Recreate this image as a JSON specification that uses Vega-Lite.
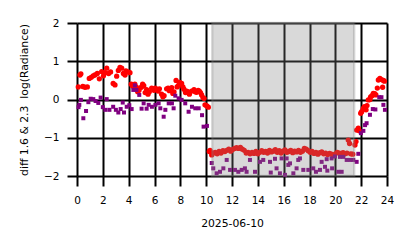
{
  "$schema": "https://vega.github.io/schema/vega-lite/v6.json",
  "width": 310,
  "height": 153,
  "autosize": {"type": "none"},
  "padding": {"left": 77, "top": 23, "right": 27, "bottom": 72},
  "config": {
    "view": {"stroke": null},
    "font": "DejaVu Sans",
    "axis": {
      "grid": true, "gridColor": "black", "gridWidth": 2, "gridOpacity": 1,
      "domain": false, "tickColor": "black", "tickWidth": 2, "tickSize": 10,
      "labelFontSize": 10.5, "labelColor": "black", "titleColor": "black",
      "titleFontSize": 10.8, "titleFontWeight": "normal", "zindex": 1,
      "labelOverlap": false
    }
  },
  "datasets": {
    "pts": [
      {"t":0.1,"v":0.33,"s":"r"},{"t":0.23,"v":0.64,"s":"r"},{"t":0.3,"v":0.67,"s":"r"},{"t":0.45,"v":0.34,"s":"r"},{"t":0.62,"v":0.32,"s":"r"},{"t":0.8,"v":0.33,"s":"r"},{"t":0.95,"v":0.55,"s":"r"},{"t":1.1,"v":0.58,"s":"r"},{"t":1.25,"v":0.62,"s":"r"},{"t":1.39,"v":0.64,"s":"r"},{"t":1.57,"v":0.68,"s":"r"},{"t":1.73,"v":0.54,"s":"r"},{"t":1.91,"v":0.73,"s":"r"},{"t":2.05,"v":0.62,"s":"r"},{"t":2.18,"v":0.7,"s":"r"},{"t":2.3,"v":0.82,"s":"r"},{"t":2.45,"v":0.68,"s":"r"},{"t":2.6,"v":0.72,"s":"r"},{"t":2.8,"v":0.42,"s":"r"},{"t":2.94,"v":0.38,"s":"r"},{"t":3.07,"v":0.61,"s":"r"},{"t":3.2,"v":0.76,"s":"r"},{"t":3.33,"v":0.84,"s":"r"},{"t":3.46,"v":0.82,"s":"r"},{"t":3.59,"v":0.68,"s":"r"},{"t":3.72,"v":0.64,"s":"r"},{"t":3.79,"v":0.75,"s":"r"},{"t":3.95,"v":0.72,"s":"r"},{"t":4.1,"v":0.7,"s":"r"},{"t":4.2,"v":0.4,"s":"r"},{"t":4.3,"v":0.35,"s":"r"},{"t":4.48,"v":0.4,"s":"r"},{"t":4.6,"v":0.32,"s":"r"},{"t":4.7,"v":0.2,"s":"r"},{"t":4.8,"v":0.24,"s":"r"},{"t":4.98,"v":0.32,"s":"r"},{"t":5.08,"v":0.4,"s":"r"},{"t":5.17,"v":0.36,"s":"r"},{"t":5.28,"v":0.18,"s":"r"},{"t":5.39,"v":0.26,"s":"r"},{"t":5.5,"v":0.14,"s":"r"},{"t":5.6,"v":0.2,"s":"r"},{"t":5.78,"v":0.3,"s":"r"},{"t":5.96,"v":0.24,"s":"r"},{"t":6.05,"v":0.3,"s":"r"},{"t":6.17,"v":0.27,"s":"r"},{"t":6.28,"v":0.22,"s":"r"},{"t":6.38,"v":0.28,"s":"r"},{"t":6.55,"v":0.14,"s":"r"},{"t":6.65,"v":0.07,"s":"r"},{"t":6.74,"v":0.1,"s":"r"},{"t":6.94,"v":0.28,"s":"r"},{"t":7.05,"v":0.3,"s":"r"},{"t":7.15,"v":0.23,"s":"r"},{"t":7.33,"v":0.31,"s":"r"},{"t":7.42,"v":0.16,"s":"r"},{"t":7.51,"v":0.2,"s":"r"},{"t":7.67,"v":0.5,"s":"r"},{"t":7.75,"v":0.33,"s":"r"},{"t":7.85,"v":0.37,"s":"r"},{"t":7.95,"v":0.45,"s":"r"},{"t":8.1,"v":0.42,"s":"r"},{"t":8.2,"v":0.33,"s":"r"},{"t":8.28,"v":0.27,"s":"r"},{"t":8.4,"v":0.18,"s":"r"},{"t":8.49,"v":0.22,"s":"r"},{"t":8.6,"v":0.2,"s":"r"},{"t":8.7,"v":0.14,"s":"r"},{"t":8.88,"v":0.22,"s":"r"},{"t":9.06,"v":0.26,"s":"r"},{"t":9.15,"v":0.2,"s":"r"},{"t":9.26,"v":0.19,"s":"r"},{"t":9.38,"v":0.24,"s":"r"},{"t":9.47,"v":0.22,"s":"r"},{"t":9.56,"v":0.18,"s":"r"},{"t":9.65,"v":0.12,"s":"r"},{"t":9.75,"v":0.05,"s":"r"},{"t":9.84,"v":0.03,"s":"r"},{"t":9.91,"v":-0.14,"s":"r"},{"t":10.05,"v":-0.17,"s":"r"},{"t":10.17,"v":-0.2,"s":"r"},{"t":10.24,"v":-1.36,"s":"r"},
      {"t":10.3,"v":-1.33,"s":"r"},{"t":10.43,"v":-1.45,"s":"r"},{"t":10.55,"v":-1.4,"s":"r"},{"t":10.7,"v":-1.38,"s":"r"},{"t":10.85,"v":-1.42,"s":"r"},{"t":11.0,"v":-1.36,"s":"r"},{"t":11.15,"v":-1.4,"s":"r"},{"t":11.3,"v":-1.34,"s":"r"},{"t":11.45,"v":-1.36,"s":"r"},{"t":11.6,"v":-1.33,"s":"r"},{"t":11.75,"v":-1.3,"s":"r"},{"t":11.9,"v":-1.35,"s":"r"},{"t":12.05,"v":-1.31,"s":"r"},{"t":12.2,"v":-1.28,"s":"r"},{"t":12.35,"v":-1.26,"s":"r"},{"t":12.5,"v":-1.28,"s":"r"},{"t":12.65,"v":-1.25,"s":"r"},{"t":12.8,"v":-1.3,"s":"r"},{"t":12.95,"v":-1.33,"s":"r"},{"t":13.1,"v":-1.4,"s":"r"},{"t":13.25,"v":-1.38,"s":"r"},{"t":13.4,"v":-1.42,"s":"r"},{"t":13.55,"v":-1.38,"s":"r"},{"t":13.7,"v":-1.41,"s":"r"},{"t":13.85,"v":-1.36,"s":"r"},{"t":14.0,"v":-1.42,"s":"r"},{"t":14.15,"v":-1.38,"s":"r"},{"t":14.3,"v":-1.34,"s":"r"},{"t":14.45,"v":-1.38,"s":"r"},{"t":14.6,"v":-1.36,"s":"r"},{"t":14.75,"v":-1.4,"s":"r"},{"t":14.9,"v":-1.33,"s":"r"},{"t":15.05,"v":-1.37,"s":"r"},{"t":15.2,"v":-1.35,"s":"r"},{"t":15.35,"v":-1.31,"s":"r"},{"t":15.5,"v":-1.38,"s":"r"},{"t":15.65,"v":-1.34,"s":"r"},{"t":15.8,"v":-1.4,"s":"r"},{"t":15.95,"v":-1.35,"s":"r"},{"t":16.1,"v":-1.32,"s":"r"},{"t":16.25,"v":-1.38,"s":"r"},{"t":16.4,"v":-1.36,"s":"r"},{"t":16.55,"v":-1.33,"s":"r"},{"t":16.7,"v":-1.39,"s":"r"},{"t":16.85,"v":-1.35,"s":"r"},{"t":17.0,"v":-1.37,"s":"r"},{"t":17.15,"v":-1.33,"s":"r"},{"t":17.3,"v":-1.38,"s":"r"},{"t":17.45,"v":-1.35,"s":"r"},{"t":17.6,"v":-1.28,"s":"r"},{"t":17.75,"v":-1.3,"s":"r"},{"t":17.9,"v":-1.34,"s":"r"},{"t":18.05,"v":-1.38,"s":"r"},{"t":18.2,"v":-1.36,"s":"r"},{"t":18.35,"v":-1.41,"s":"r"},{"t":18.5,"v":-1.38,"s":"r"},{"t":18.65,"v":-1.43,"s":"r"},{"t":18.8,"v":-1.39,"s":"r"},{"t":18.95,"v":-1.37,"s":"r"},{"t":19.1,"v":-1.42,"s":"r"},{"t":19.25,"v":-1.4,"s":"r"},{"t":19.4,"v":-1.44,"s":"r"},{"t":19.55,"v":-1.41,"s":"r"},{"t":19.7,"v":-1.43,"s":"r"},{"t":19.85,"v":-1.46,"s":"r"},{"t":20.0,"v":-1.42,"s":"r"},{"t":20.15,"v":-1.38,"s":"r"},{"t":20.3,"v":-1.4,"s":"r"},{"t":20.45,"v":-1.41,"s":"r"},{"t":20.6,"v":-1.39,"s":"r"},{"t":20.75,"v":-1.42,"s":"r"},{"t":20.9,"v":-1.4,"s":"r"},{"t":21.0,"v":-1.06,"s":"r"},{"t":21.1,"v":-1.15,"s":"r"},{"t":21.2,"v":-1.42,"s":"r"},{"t":21.35,"v":-1.43,"s":"r"},{"t":21.52,"v":-1.19,"s":"r"},{"t":21.6,"v":-1.1,"s":"r"},{"t":21.65,"v":-0.8,"s":"r"},{"t":21.78,"v":-0.75,"s":"r"},{"t":21.85,"v":-0.82,"s":"r"},{"t":21.96,"v":-0.36,"s":"r"},{"t":22.04,"v":-0.32,"s":"r"},{"t":22.17,"v":-0.23,"s":"r"},{"t":22.25,"v":-0.19,"s":"r"},{"t":22.38,"v":-0.27,"s":"r"},{"t":22.45,"v":-0.16,"s":"r"},{"t":22.55,"v":-0.01,"s":"r"},{"t":22.68,"v":0.0,"s":"r"},{"t":22.73,"v":0.07,"s":"r"},{"t":22.84,"v":0.1,"s":"r"},{"t":22.94,"v":0.16,"s":"r"},{"t":23.05,"v":0.15,"s":"r"},{"t":23.14,"v":0.12,"s":"r"},{"t":23.25,"v":0.3,"s":"r"},{"t":23.33,"v":0.51,"s":"r"},{"t":23.45,"v":0.55,"s":"r"},{"t":23.57,"v":0.52,"s":"r"},{"t":23.66,"v":0.32,"s":"r"},{"t":23.72,"v":0.5,"s":"r"},{"t":23.8,"v":0.48,"s":"r"},
      {"t":0.12,"v":-0.2,"s":"p"},{"t":0.18,"v":-0.14,"s":"p"},{"t":0.3,"v":-0.01,"s":"p"},{"t":0.49,"v":-0.49,"s":"p"},{"t":0.7,"v":-0.3,"s":"p"},{"t":0.88,"v":-0.07,"s":"p"},{"t":1.06,"v":0.02,"s":"p"},{"t":1.26,"v":0.01,"s":"p"},{"t":1.44,"v":-0.04,"s":"p"},{"t":1.65,"v":-0.09,"s":"p"},{"t":1.83,"v":0.05,"s":"p"},{"t":2.0,"v":-0.2,"s":"p"},{"t":2.2,"v":-0.27,"s":"p"},{"t":2.3,"v":0.01,"s":"p"},{"t":2.51,"v":-0.27,"s":"p"},{"t":2.8,"v":-0.19,"s":"p"},{"t":3.01,"v":-0.27,"s":"p"},{"t":3.2,"v":-0.34,"s":"p"},{"t":3.38,"v":-0.25,"s":"p"},{"t":3.54,"v":-0.08,"s":"p"},{"t":3.64,"v":-0.34,"s":"p"},{"t":3.85,"v":-0.19,"s":"p"},{"t":4.05,"v":-0.15,"s":"p"},{"t":4.23,"v":-0.25,"s":"p"},{"t":4.36,"v":0.25,"s":"p"},{"t":4.48,"v":0.37,"s":"p"},{"t":4.6,"v":0.25,"s":"p"},{"t":4.82,"v":0.12,"s":"p"},{"t":5.0,"v":-0.24,"s":"p"},{"t":5.16,"v":-0.1,"s":"p"},{"t":5.39,"v":-0.24,"s":"p"},{"t":5.55,"v":-0.14,"s":"p"},{"t":5.8,"v":-0.19,"s":"p"},{"t":6.07,"v":-0.14,"s":"p"},{"t":6.32,"v":-0.1,"s":"p"},{"t":6.45,"v":-0.23,"s":"p"},{"t":6.71,"v":-0.45,"s":"p"},{"t":6.84,"v":-0.27,"s":"p"},{"t":7.1,"v":-0.1,"s":"p"},{"t":7.35,"v":-0.1,"s":"p"},{"t":7.48,"v":-0.23,"s":"p"},{"t":7.61,"v":0.1,"s":"p"},{"t":7.87,"v":0.03,"s":"p"},{"t":8.1,"v":-0.01,"s":"p"},{"t":8.38,"v":-0.1,"s":"p"},{"t":8.64,"v":-0.32,"s":"p"},{"t":8.9,"v":-0.19,"s":"p"},{"t":9.16,"v":-0.23,"s":"p"},{"t":9.42,"v":-0.23,"s":"p"},{"t":9.68,"v":-0.41,"s":"p"},{"t":9.8,"v":-0.71,"s":"p"},{"t":10.06,"v":-0.69,"s":"p"},
      {"t":10.43,"v":-1.66,"s":"p"},{"t":10.55,"v":-1.8,"s":"p"},{"t":10.81,"v":-1.93,"s":"p"},{"t":11.07,"v":-1.89,"s":"p"},{"t":11.33,"v":-1.8,"s":"p"},{"t":11.59,"v":-1.58,"s":"p"},{"t":11.85,"v":-1.84,"s":"p"},{"t":12.23,"v":-1.84,"s":"p"},{"t":12.49,"v":-1.89,"s":"p"},{"t":12.75,"v":-1.84,"s":"p"},{"t":13.0,"v":-1.8,"s":"p"},{"t":13.13,"v":-1.89,"s":"p"},{"t":13.39,"v":-1.58,"s":"p"},{"t":13.78,"v":-1.89,"s":"p"},{"t":14.17,"v":-1.63,"s":"p"},{"t":14.42,"v":-1.58,"s":"p"},{"t":14.94,"v":-1.63,"s":"p"},{"t":15.0,"v":-1.91,"s":"p"},{"t":15.33,"v":-1.55,"s":"p"},{"t":15.45,"v":-1.8,"s":"p"},{"t":15.71,"v":-1.93,"s":"p"},{"t":15.84,"v":-1.54,"s":"p"},{"t":16.1,"v":-1.97,"s":"p"},{"t":16.23,"v":-1.54,"s":"p"},{"t":16.36,"v":-1.71,"s":"p"},{"t":16.49,"v":-1.67,"s":"p"},{"t":16.75,"v":-1.93,"s":"p"},{"t":17.0,"v":-1.8,"s":"p"},{"t":17.13,"v":-1.58,"s":"p"},{"t":17.26,"v":-1.54,"s":"p"},{"t":17.52,"v":-1.84,"s":"p"},{"t":17.91,"v":-1.84,"s":"p"},{"t":18.29,"v":-1.8,"s":"p"},{"t":18.5,"v":-1.89,"s":"p"},{"t":18.81,"v":-1.84,"s":"p"},{"t":18.94,"v":-1.63,"s":"p"},{"t":19.2,"v":-1.76,"s":"p"},{"t":19.33,"v":-1.56,"s":"p"},{"t":19.38,"v":-1.86,"s":"p"},{"t":19.71,"v":-1.54,"s":"p"},{"t":19.75,"v":-1.8,"s":"p"},{"t":19.97,"v":-1.49,"s":"p"},{"t":20.23,"v":-1.89,"s":"p"},{"t":20.36,"v":-1.5,"s":"p"},{"t":20.49,"v":-1.89,"s":"p"},{"t":20.62,"v":-1.5,"s":"p"},{"t":20.88,"v":-1.58,"s":"p"},{"t":21.14,"v":-1.58,"s":"p"},{"t":21.39,"v":-1.58,"s":"p"},{"t":21.65,"v":-1.63,"s":"p"},
      {"t":21.78,"v":-1.42,"s":"p"},{"t":21.98,"v":-0.88,"s":"p"},{"t":22.17,"v":-0.82,"s":"p"},{"t":22.3,"v":-0.67,"s":"p"},{"t":22.42,"v":-0.62,"s":"p"},{"t":22.68,"v":-0.4,"s":"p"},{"t":22.9,"v":-0.25,"s":"p"},{"t":23.1,"v":-0.26,"s":"p"},{"t":23.4,"v":0.06,"s":"p"},{"t":23.57,"v":0.06,"s":"p"},{"t":23.72,"v":-0.14,"s":"p"},{"t":23.84,"v":-0.27,"s":"p"}
    ],
    "shade": [{"start": 10.47, "end": 21.46}]
  },
  "encoding": {
    "x": {"type": "quantitative",
          "scale": {"domain": [0, 24], "nice": false, "zero": false},
          "axis": {"values": [0,2,4,6,8,10,12,14,16,18,20,22,24], "tickCount": 30, "format": "d", "title": "2025-06-10", "labelPadding": 9, "titlePadding": 12, "labelFlush": false}},
    "y": {"type": "quantitative",
          "scale": {"domain": [-2, 2], "nice": false},
          "axis": {"values": [-2,-1,0,1,2], "tickCount": 10, "format": "d", "title": "diff 1.6 & 2.3\u00a0 log(Radiance)", "labelPadding": 8, "titlePadding": 14, "labelFlush": false}}
  },
  "layer": [
    {
      "data": {"name": "pts"},
      "mark": {"type": "point", "filled": true, "opacity": 1, "strokeWidth": 0},
      "encoding": {
        "x": {"field": "t", "type": "quantitative"},
        "y": {"field": "v", "type": "quantitative"},
        "color": {"field": "s", "type": "nominal", "scale": {"domain": ["r","p"], "range": ["#ff0000","#800080"]}, "legend": null},
        "shape": {"field": "s", "type": "nominal", "scale": {"domain": ["r","p"], "range": ["circle","square"]}, "legend": null},
        "size": {"field": "s", "type": "nominal", "scale": {"domain": ["r","p"], "range": [28, 16]}, "legend": null}
      }
    },
    {
      "data": {"name": "shade"},
      "mark": {"type": "rect", "fill": "#808080", "fillOpacity": 0.3, "stroke": "#808080", "strokeOpacity": 0.3, "strokeWidth": 2.4},
      "encoding": {
        "x": {"field": "start", "type": "quantitative"},
        "x2": {"field": "end"},
        "y": {"datum": 2, "type": "quantitative"},
        "y2": {"datum": -2}
      }
    }
  ]
}
